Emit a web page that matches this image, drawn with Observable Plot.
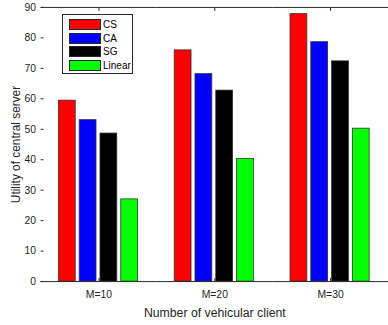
<!DOCTYPE html>
<html>
<head>
<meta charset="utf-8">
<script src="https://cdn.jsdelivr.net/npm/d3@7"></script>
<script src="https://cdn.jsdelivr.net/npm/@observablehq/plot@0.6"></script>
<style>
  html, body { margin: 0; padding: 0; background: #fff; overflow: hidden; }
  #wrap { position: relative; width: 388px; height: 325px; overflow: hidden; }
  #wrap svg { display: block; }
  #legend { position: absolute; left: 62px; top: 14px; width: 71px; height: 60px; border: 1px solid #262626; background: #fff; box-sizing: border-box; font-family: "Liberation Sans", Arial, sans-serif; font-size: 10px; color: #000; }
  .row { position: absolute; left: 6px; height: 10px; display: flex; align-items: center; white-space: nowrap; }
  .sw { width: 30px; height: 9px; border: 1px solid #262626; box-sizing: content-box; margin-right: 2px; }
</style>
</head>
<body>
<div id="wrap"></div>
<script>
const groups = ["M=10", "M=20", "M=30"];
const series = ["CS", "CA", "SG", "Linear"];
const colors = ["#ff0000", "#0000ff", "#000000", "#00ff00"];
const csValues = [59.4, 75.9, 87.8];
const caValues = [53.0, 68.1, 78.6];
const sgValues = [48.6, 62.7, 72.3];
const linearValues = [27.0, 40.3, 50.2];
const yTicks = [0, 10, 20, 30, 40, 50, 60, 70, 80, 90];
const xLabel = "Number of vehicular client";
const yLabel = "Utility of central server";

const valueArrays = [csValues, caValues, sgValues, linearValues];
const data = [];
groups.forEach((g, gi) => {
  series.forEach((s, si) => {
    data.push({group: g, series: s, value: valueArrays[si][gi]});
  });
});

const chart = Plot.plot({
  width: 392,
  height: 325,
  marginTop: 7,
  marginBottom: 41,
  marginLeft: 40,
  marginRight: 0,
  style: {fontFamily: "'Liberation Sans', Arial, sans-serif", fontSize: "10px", color: "#262626", background: "#fff"},
  fx: {domain: groups, padding: 0, axis: null, label: null},
  x: {domain: series, paddingInner: 0.17, paddingOuter: 0.836, axis: null},
  y: {domain: [0, 90], axis: null},
  color: {domain: series, range: colors},
  marks: [
    Plot.barY(data, {fx: "group", x: "series", y: "value", fill: "series", stroke: "#333", strokeWidth: 0.8}),
    Plot.ruleY([0, 90], {stroke: "#262626", strokeWidth: 1}),
    Plot.axisY({ticks: yTicks, tickSize: -3, tickPadding: 8, line: true, stroke: "#262626", label: null, fontSize: 10.5}),
    Plot.axisY({ticks: [], tickSize: 0, label: yLabel, labelAnchor: "center", labelArrow: "none", labelOffset: 30, fontSize: 12}),
    Plot.axisFx({anchor: "bottom", tickSize: -3, tickPadding: 12, label: null, fontSize: 10.5}),
    Plot.axisFx({anchor: "bottom", ticks: [], tickSize: 0, label: xLabel, labelAnchor: "center", labelArrow: "none", labelOffset: 36, fontSize: 12.4}),
    Plot.axisFx({anchor: "top", tickSize: -3, tickFormat: () => "", label: null})
  ]
});
document.getElementById("wrap").appendChild(chart);

const legend = document.createElement("div");
legend.id = "legend";
series.forEach((s, i) => {
  const row = document.createElement("div");
  row.className = "row";
  row.style.top = (4.5 + i * 13.6) + "px";
  const sw = document.createElement("div");
  sw.className = "sw";
  sw.style.background = colors[i];
  const t = document.createElement("span");
  t.textContent = s;
  row.appendChild(sw);
  row.appendChild(t);
  legend.appendChild(row);
});
document.getElementById("wrap").appendChild(legend);
</script>
</body>
</html>
